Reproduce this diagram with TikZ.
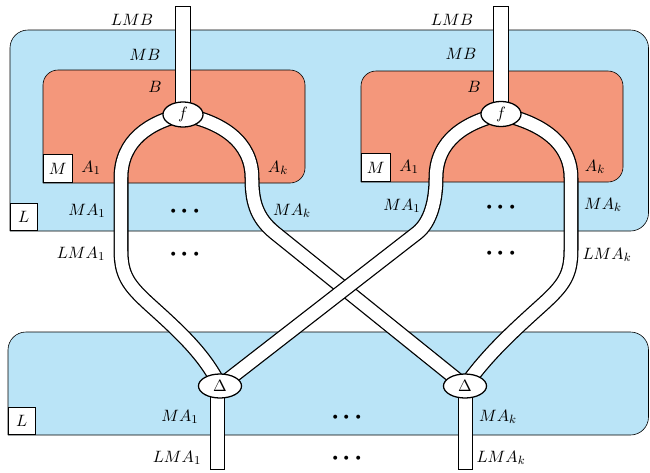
\documentclass[tikz,border=0pt]{standalone}
\usetikzlibrary{shapes.geometric,calc}
\definecolor{lblue}{RGB}{186,228,247}
\definecolor{lorange}{RGB}{244,151,123}
\pgfdeclarelayer{bg}
\pgfdeclarelayer{mid}
\pgfsetlayers{bg,mid,main}
\newcommand\mydots{{\fontsize{24}{24}\selectfont$\mathord{\cdot}\mkern0.6mu\mathord{\cdot}\mkern0.6mu\mathord{\cdot}$}}
\begin{document}
\begin{tikzpicture}[x=0.6667pt,y=-0.6667pt,line width=0.85pt,
  font=\fontsize{11}{13}\selectfont,
  region/.style={fill=lblue,draw=black,rounded corners=12pt},
  inner/.style={fill=lorange,draw=black,rounded corners=10pt},
  tagbox/.style={draw=black,fill=white,inner sep=0pt,minimum size=18pt},
  mbox/.style={draw=black,fill=white,inner sep=0pt,minimum width=19.3pt,minimum height=18.7pt},
  lab/.style={inner sep=0pt},
  dotsl/.style={inner sep=0pt,anchor=base},
  morph/.style={ellipse,draw=black,fill=white,inner sep=0pt,minimum width=26.7pt,minimum height=16.7pt},
  comorph/.style={ellipse,draw=black,fill=white,inner sep=0pt,minimum width=28.7pt,minimum height=16pt},
  strand/.style={draw=black,line width=10pt,postaction={draw=white,line width=8.3pt}},
  stub/.style={draw=black,fill=white}]
\useasboundingbox (0,0) rectangle (650,472);

% nodes
\node[morph] (f1) at (183,114.5) {$f$};
\node[morph] (f2) at (501,114) {$f$};
\node[comorph] (d1) at (220,386) {$\Delta$};
\node[comorph] (d2) at (465,386) {$\Delta$};
\coordinate (top1) at (182.5,6);
\coordinate (top2) at (500.5,6);
\coordinate (bot1) at (217,469);
\coordinate (bot2) at (465,469);

\begin{pgfonlayer}{bg}
  % top big region
  \draw[region] (10,231) -- (10,30) -- (648.5,30) -- (648.5,231) -- (10,231);
  % bottom region
  \draw[region] (8,435) -- (8,332) -- (648.5,332) -- (648.5,435) -- (8,435);
  % inner regions
  \draw[inner] (43,183) -- (43,70) -- (305,70) -- (305,183) -- (43,183);
  \draw[inner] (361,182) -- (361,71) -- (623,71) -- (623,182) -- (361,182);
  \node[tagbox,anchor=south west] (L1) at (10,231) {$L$};
  \node[tagbox,anchor=south west] (L2) at (8,435) {$L$};
  \node[mbox,anchor=south west] (M1) at (43,183) {$M$};
  \node[mbox,anchor=south west] (M2) at (361,182) {$M$};
\end{pgfonlayer}

\begin{pgfonlayer}{mid}
  \draw[stub] ($(top1)+(-7.5,0)$) rectangle ($(f1.center)+(7.5,0)$);
  \draw[stub] ($(top2)+(-7.5,0)$) rectangle ($(f2.center)+(7.5,0)$);
  \draw[stub] ($(bot1)+(-7,0)$) rectangle ($(d1.center)+(4,0)$);
  \draw[stub] ($(bot2)+(-7,0)$) rectangle ($(d2.center)+(7,0)$);
  \draw[strand] (f1.center) .. controls (150,122) and (121,140) .. (121,178)
     -- (121,250) .. controls (121,275) and (128,285) .. (150,305)
     .. controls (180,332) and (205,355) .. (d1.center);
  \draw[strand] (f2.center) .. controls (537,122) and (571,140) .. (571,178)
     -- (571,250) .. controls (571,275) and (564,285) .. (542,305)
     .. controls (512,332) and (487,355) .. (d2.center);
  \draw[strand] (f1.center) .. controls (222,122) and (252,142) .. (252,178)
     .. controls (252,200) and (255.5,217.3) .. (275,233) -- (d2.center);
  \draw[strand] (f2.center) .. controls (466,122) and (436,140) .. (436,178)
     .. controls (436,200) and (431,222) .. (417,233) -- (d1.center);
\end{pgfonlayer}

% labels left half
\node[lab] (lmb1) at (132,20) {$LMB$};
\node[lab] (mb1) at (145,55) {$MB$};
\node[lab] (b1) at (155,87) {$B$};
\node[lab] (a11) at (91,168) {$A_1$};
\node[lab] (ak1) at (278,168) {$A_k$};
\node[lab] (ma11) at (87,211) {$MA_1$};
\node[dotsl] (dt1) at (185,220) {\mydots};
\node[lab] (mak1) at (292,211) {$MA_k$};
\node[lab] (lma11) at (81,254) {$LMA_1$};
\node[dotsl] (dt2) at (185,263) {\mydots};
% labels right half
\node[lab] (lmb2) at (452,20) {$LMB$};
\node[lab] (mb2) at (461,54) {$MB$};
\node[lab] (b2) at (474,87) {$B$};
\node[lab] (a12) at (409,167) {$A_1$};
\node[lab] (ak2) at (595,167) {$A_k$};
\node[lab] (ma12) at (402,206) {$MA_1$};
\node[dotsl] (dt3) at (501,216) {\mydots};
\node[lab] (mak2) at (603,205) {$MA_k$};
\node[lab] (lmak2) at (607,255) {$LMA_k$};
\node[dotsl] (dt4) at (501,262) {\mydots};
% labels bottom
\node[lab] (ma13) at (180,417) {$MA_1$};
\node[dotsl] (dt5) at (347,426) {\mydots};
\node[lab] (mak3) at (498,417) {$MA_k$};
\node[lab] (lma13) at (177,458) {$LMA_1$};
\node[dotsl] (dt6) at (347,467) {\mydots};
\node[lab] (lmak3) at (501,458) {$LMA_k$};
\end{tikzpicture}
\end{document}
